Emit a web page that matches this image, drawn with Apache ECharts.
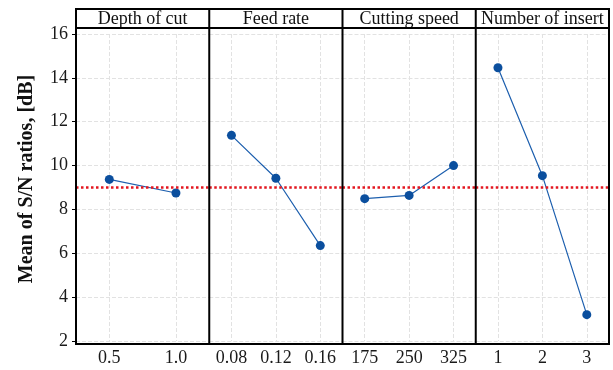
<!DOCTYPE html>
<html>
<head>
<meta charset="utf-8">
<script src="https://cdn.jsdelivr.net/npm/echarts@6/dist/echarts.min.js"></script>
<style>
  html, body { margin: 0; padding: 0; background: #fff; }
  #main { width: 613px; height: 370px; }
</style>
</head>
<body>
<div id="main"></div>
<script>
// main effects plot for S/N ratios
var panelTitles = ['Depth of cut', 'Feed rate', 'Cutting speed', 'Number of insert']
var depthCats = ['0.5', '1.0']
var depthVals = [9.37, 8.75]
var feedCats = ['0.08', '0.12', '0.16']
var feedVals = [11.38, 9.42, 6.35]
var speedCats = ['175', '250', '325']
var speedVals = [8.49, 8.64, 10.0]
var insertCats = ['1', '2', '3']
var insertVals = [14.46, 9.54, 3.2]
var yMin = 2, yMax = 16, yStep = 2
var grandMean = 9.03

var cats = [depthCats, feedCats, speedCats, insertCats]
var vals = [depthVals, feedVals, speedVals, insertVals]

var chart = echarts.init(document.getElementById('main'))

var left0 = 76, panelW = 133.25, frameTop = 9, headH = 19, frameBottom = 344
var font = 'Liberation Serif, Times New Roman, serif'

var grids = [], xAxes = [], yAxes = [], series = [], graphics = []

for (var i = 0; i < 4; i++) {
  grids.push({ left: left0 + i * panelW, width: panelW, top: 34, bottom: 29 })
  xAxes.push({
    type: 'category',
    gridIndex: i,
    data: cats[i],
    offset: 3,
    axisLine: { show: false },
    axisTick: { alignWithLabel: true, length: 4, lineStyle: { color: '#000', width: 1 } },
    axisLabel: { color: '#1a1a1a', fontFamily: font, fontSize: 18, margin: 5 },
    splitLine: { show: true, alignWithLabel: true, lineStyle: { color: '#e2e2e2', type: 'dashed' } }
  })
  yAxes.push({
    type: 'value',
    gridIndex: i,
    min: yMin,
    max: yMax,
    interval: yStep,
    axisLine: { show: false },
    axisTick: { show: i === 0, length: 4, lineStyle: { color: '#000' } },
    axisLabel: { show: i === 0, color: '#1a1a1a', fontFamily: font, fontSize: 18, margin: 8 },
    splitLine: { show: true, lineStyle: { color: '#e2e2e2', type: 'dashed' } }
  })
  series.push({
    type: 'line',
    xAxisIndex: i,
    yAxisIndex: i,
    data: vals[i],
    symbol: 'circle',
    symbolSize: 9,
    itemStyle: { color: '#0b4f9e' },
    lineStyle: { color: '#1d5fae', width: 1.2 },
    markLine: {
      silent: true,
      symbol: 'none',
      label: { show: false },
      lineStyle: { color: '#e3161f', type: 'dotted', width: 2.5 },
      data: [{ yAxis: grandMean }]
    }
  })
  // header text
  graphics.push({
    type: 'text',
    x: left0 + i * panelW + panelW / 2,
    y: frameTop + headH / 2 + 0.5,
    z: 100,
    style: {
      text: panelTitles[i],
      font: '18px ' + font,
      fill: '#111',
      align: 'center',
      verticalAlign: 'middle'
    }
  })
  if (i > 0) {
    graphics.push({
      type: 'line',
      z: 100,
      shape: { x1: left0 + i * panelW, y1: frameTop, x2: left0 + i * panelW, y2: frameBottom },
      style: { stroke: '#000', lineWidth: 2 }
    })
  }
}

// outer frame and header strip
graphics.push({
  type: 'rect',
  z: 100,
  shape: { x: left0, y: frameTop, width: panelW * 4, height: frameBottom - frameTop },
  style: { fill: null, stroke: '#000', lineWidth: 2 }
})
graphics.push({
  type: 'line',
  z: 100,
  shape: { x1: left0, y1: frameTop + headH, x2: left0 + panelW * 4, y2: frameTop + headH },
  style: { stroke: '#000', lineWidth: 2 }
})
// y axis title
graphics.push({
  type: 'text',
  x: 27,
  y: 179,
  rotation: Math.PI / 2,
  z: 100,
  style: {
    text: 'Mean of S/N ratios, [dB]',
    font: 'bold 20px ' + font,
    fill: '#111',
    align: 'center',
    verticalAlign: 'middle'
  }
})

var option = {
  animation: false,
  grid: grids,
  xAxis: xAxes,
  yAxis: yAxes,
  series: series,
  graphic: graphics
}

chart.setOption(option)
</script>
</body>
</html>
